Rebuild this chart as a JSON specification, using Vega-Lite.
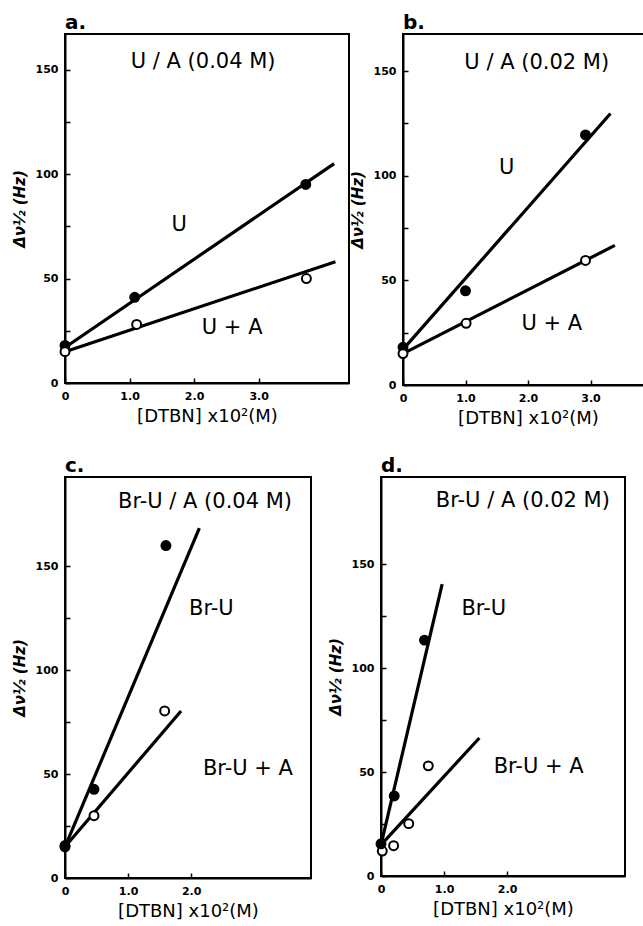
{
  "$schema": "https://vega.github.io/schema/vega-lite/v6.json",
  "background": "white",
  "padding": {"left": 11, "top": 12, "right": 0, "bottom": 0},
  "datasets": {
    "points": [
      {"panel": "a", "kind": "filled", "x": 0, "y": 18},
      {"panel": "a", "kind": "filled", "x": 1.08, "y": 41},
      {"panel": "a", "kind": "filled", "x": 3.73, "y": 95},
      {"panel": "a", "kind": "open", "x": 0, "y": 15},
      {"panel": "a", "kind": "open", "x": 1.11, "y": 28},
      {"panel": "a", "kind": "open", "x": 3.74, "y": 50},
      {"panel": "b", "kind": "filled", "x": 0, "y": 18},
      {"panel": "b", "kind": "filled", "x": 1.0, "y": 45},
      {"panel": "b", "kind": "filled", "x": 2.92, "y": 119.5},
      {"panel": "b", "kind": "open", "x": 0, "y": 15},
      {"panel": "b", "kind": "open", "x": 1.01, "y": 29.5},
      {"panel": "b", "kind": "open", "x": 2.92, "y": 59.5},
      {"panel": "c", "kind": "open", "x": 0, "y": 15},
      {"panel": "c", "kind": "filled", "x": 0, "y": 15.6},
      {"panel": "c", "kind": "filled", "x": 0.46, "y": 42.7},
      {"panel": "c", "kind": "filled", "x": 1.6, "y": 160},
      {"panel": "c", "kind": "open", "x": 0.46, "y": 30},
      {"panel": "c", "kind": "open", "x": 1.58, "y": 80.4},
      {"panel": "d", "kind": "open", "x": 0.02, "y": 12},
      {"panel": "d", "kind": "filled", "x": 0, "y": 15.5},
      {"panel": "d", "kind": "filled", "x": 0.21, "y": 38.5},
      {"panel": "d", "kind": "filled", "x": 0.69, "y": 113.5},
      {"panel": "d", "kind": "open", "x": 0.2, "y": 14.6},
      {"panel": "d", "kind": "open", "x": 0.44, "y": 25.2},
      {"panel": "d", "kind": "open", "x": 0.75, "y": 53}
    ],
    "fits": [
      {"panel": "a", "series": "U", "x": 0, "y": 17},
      {"panel": "a", "series": "U", "x": 4.17, "y": 105},
      {"panel": "a", "series": "U+A", "x": 0, "y": 15},
      {"panel": "a", "series": "U+A", "x": 4.19, "y": 58},
      {"panel": "b", "series": "U", "x": 0, "y": 17},
      {"panel": "b", "series": "U", "x": 3.32, "y": 129.7},
      {"panel": "b", "series": "U+A", "x": 0, "y": 15},
      {"panel": "b", "series": "U+A", "x": 3.39, "y": 66.7},
      {"panel": "c", "series": "Br-U", "x": 0, "y": 15},
      {"panel": "c", "series": "Br-U", "x": 2.13, "y": 168.4},
      {"panel": "c", "series": "Br-U+A", "x": 0, "y": 15},
      {"panel": "c", "series": "Br-U+A", "x": 1.84, "y": 80.4},
      {"panel": "d", "series": "Br-U", "x": 0, "y": 15},
      {"panel": "d", "series": "Br-U", "x": 0.97, "y": 140.4},
      {"panel": "d", "series": "Br-U+A", "x": 0, "y": 15},
      {"panel": "d", "series": "Br-U+A", "x": 1.56, "y": 66.4}
    ],
    "labels": [
      {"panel": "a", "text": "U / A (0.04 M)", "x": 2.14, "y": 153.4},
      {"panel": "a", "text": "U", "x": 1.77, "y": 75.5},
      {"panel": "a", "text": "U + A", "x": 2.59, "y": 26.1},
      {"panel": "b", "text": "U / A (0.02 M)", "x": 2.14, "y": 153.8},
      {"panel": "b", "text": "U", "x": 1.66, "y": 103.8},
      {"panel": "b", "text": "U + A", "x": 2.38, "y": 29},
      {"panel": "c", "text": "Br-U / A (0.04 M)", "x": 2.22, "y": 180.9},
      {"panel": "c", "text": "Br-U", "x": 2.32, "y": 129.7},
      {"panel": "c", "text": "Br-U + A", "x": 2.9, "y": 52.7},
      {"panel": "d", "text": "Br-U / A (0.02 M)", "x": 2.25, "y": 180.4},
      {"panel": "d", "text": "Br-U", "x": 1.63, "y": 128.4},
      {"panel": "d", "text": "Br-U + A", "x": 2.5, "y": 52.3}
    ]
  },
  "vconcat": [
    {
      "hconcat": [
        {
          "width": 284, "height": 349,
          "title": {"text": "a."},
          "layer": [
            {"data": {"name": "fits"}, "transform": [{"filter": "datum.panel === 'a'"}],
             "mark": {"type": "line", "color": "black", "strokeWidth": 3.2},
             "encoding": {
               "x": {"field": "x", "type": "quantitative", "scale": {"domain": [0, 4.4], "nice": false, "zero": false},
                     "axis": {"values": [0, 1, 2, 3], "labelExpr": "datum.value === 0 ? '0' : format(datum.value, '.1f')", "title": "[DTBN] x10²(M)"}},
               "y": {"field": "y", "type": "quantitative", "scale": {"domain": [0, 167], "nice": false},
                     "axis": {"values": [0, 25, 50, 75, 100, 125, 150], "labelExpr": "datum.value % 50 === 0 ? datum.label : ''", "title": "Δν½ (Hz)"}},
               "detail": {"field": "series"}}},
            {"data": {"name": "points"}, "transform": [{"filter": "datum.panel === 'a'"}],
             "mark": {"type": "point", "filled": true, "stroke": "black", "strokeWidth": 2, "size": 80, "opacity": 1},
             "encoding": {
               "x": {"field": "x", "type": "quantitative"},
               "y": {"field": "y", "type": "quantitative"},
               "fill": {"field": "kind", "type": "nominal", "scale": {"domain": ["filled", "open"], "range": ["black", "white"]}, "legend": null}}},
            {"data": {"name": "labels"}, "transform": [{"filter": "datum.panel === 'a'"}],
             "mark": {"type": "text", "fontSize": 21, "font": "DejaVu Sans", "color": "black", "align": "center", "baseline": "middle"},
             "encoding": {
               "x": {"field": "x", "type": "quantitative"},
               "y": {"field": "y", "type": "quantitative"},
               "text": {"field": "text"}}}
          ]
        },
        {
          "width": 250, "height": 351,
          "title": {"text": "b."},
          "layer": [
            {"data": {"name": "fits"}, "transform": [{"filter": "datum.panel === 'b'"}],
             "mark": {"type": "line", "color": "black", "strokeWidth": 3.2},
             "encoding": {
               "x": {"field": "x", "type": "quantitative", "scale": {"domain": [0, 4.0], "nice": false, "zero": false},
                     "axis": {"values": [0, 1, 2, 3], "labelExpr": "datum.value === 0 ? '0' : format(datum.value, '.1f')", "title": "[DTBN] x10²(M)"}},
               "y": {"field": "y", "type": "quantitative", "scale": {"domain": [0, 167.7], "nice": false},
                     "axis": {"values": [0, 25, 50, 75, 100, 125, 150], "labelExpr": "datum.value % 50 === 0 ? datum.label : ''", "title": "Δν½ (Hz)"}},
               "detail": {"field": "series"}}},
            {"data": {"name": "points"}, "transform": [{"filter": "datum.panel === 'b'"}],
             "mark": {"type": "point", "filled": true, "stroke": "black", "strokeWidth": 2, "size": 80, "opacity": 1},
             "encoding": {
               "x": {"field": "x", "type": "quantitative"},
               "y": {"field": "y", "type": "quantitative"},
               "fill": {"field": "kind", "type": "nominal", "scale": {"domain": ["filled", "open"], "range": ["black", "white"]}, "legend": null}}},
            {"data": {"name": "labels"}, "transform": [{"filter": "datum.panel === 'b'"}],
             "mark": {"type": "text", "fontSize": 21, "font": "DejaVu Sans", "color": "black", "align": "center", "baseline": "middle"},
             "encoding": {
               "x": {"field": "x", "type": "quantitative"},
               "y": {"field": "y", "type": "quantitative"},
               "text": {"field": "text"}}}
          ]
        }
      ],
      "spacing": 54,
      "bounds": "flush"
    },
    {
      "hconcat": [
        {
          "width": 246, "height": 401,
          "title": {"text": "c."},
          "layer": [
            {"data": {"name": "fits"}, "transform": [{"filter": "datum.panel === 'c'"}],
             "mark": {"type": "line", "color": "black", "strokeWidth": 3.2},
             "encoding": {
               "x": {"field": "x", "type": "quantitative", "scale": {"domain": [0, 3.9], "nice": false, "zero": false},
                     "axis": {"values": [0, 1, 2], "labelExpr": "datum.value === 0 ? '0' : format(datum.value, '.1f')", "title": "[DTBN] x10²(M)"}},
               "y": {"field": "y", "type": "quantitative", "scale": {"domain": [0, 193], "nice": false},
                     "axis": {"values": [0, 25, 50, 75, 100, 125, 150], "labelExpr": "datum.value % 50 === 0 ? datum.label : ''", "title": "Δν½ (Hz)"}},
               "detail": {"field": "series"}}},
            {"data": {"name": "points"}, "transform": [{"filter": "datum.panel === 'c'"}],
             "mark": {"type": "point", "filled": true, "stroke": "black", "strokeWidth": 2, "size": 80, "opacity": 1},
             "encoding": {
               "x": {"field": "x", "type": "quantitative"},
               "y": {"field": "y", "type": "quantitative"},
               "fill": {"field": "kind", "type": "nominal", "scale": {"domain": ["filled", "open"], "range": ["black", "white"]}, "legend": null}}},
            {"data": {"name": "labels"}, "transform": [{"filter": "datum.panel === 'c'"}],
             "mark": {"type": "text", "fontSize": 21, "font": "DejaVu Sans", "color": "black", "align": "center", "baseline": "middle"},
             "encoding": {
               "x": {"field": "x", "type": "quantitative"},
               "y": {"field": "y", "type": "quantitative"},
               "text": {"field": "text"}}}
          ]
        },
        {
          "width": 244, "height": 399,
          "title": {"text": "d."},
          "layer": [
            {"data": {"name": "fits"}, "transform": [{"filter": "datum.panel === 'd'"}],
             "mark": {"type": "line", "color": "black", "strokeWidth": 3.2},
             "encoding": {
               "x": {"field": "x", "type": "quantitative", "scale": {"domain": [0, 3.87], "nice": false, "zero": false},
                     "axis": {"values": [0, 1, 2], "labelExpr": "datum.value === 0 ? '0' : format(datum.value, '.1f')", "title": "[DTBN] x10²(M)"}},
               "y": {"field": "y", "type": "quantitative", "scale": {"domain": [0, 192], "nice": false},
                     "axis": {"values": [0, 25, 50, 75, 100, 125, 150], "labelExpr": "datum.value % 50 === 0 ? datum.label : ''", "title": "Δν½ (Hz)"}},
               "detail": {"field": "series"}}},
            {"data": {"name": "points"}, "transform": [{"filter": "datum.panel === 'd'"}],
             "mark": {"type": "point", "filled": true, "stroke": "black", "strokeWidth": 2, "size": 80, "opacity": 1},
             "encoding": {
               "x": {"field": "x", "type": "quantitative"},
               "y": {"field": "y", "type": "quantitative"},
               "fill": {"field": "kind", "type": "nominal", "scale": {"domain": ["filled", "open"], "range": ["black", "white"]}, "legend": null}}},
            {"data": {"name": "labels"}, "transform": [{"filter": "datum.panel === 'd'"}],
             "mark": {"type": "text", "fontSize": 21, "font": "DejaVu Sans", "color": "black", "align": "center", "baseline": "middle"},
             "encoding": {
               "x": {"field": "x", "type": "quantitative"},
               "y": {"field": "y", "type": "quantitative"},
               "text": {"field": "text"}}}
          ]
        }
      ],
      "spacing": 70,
      "bounds": "flush"
    }
  ],
  "spacing": 27,
  "config": {
    "view": {"stroke": "black", "strokeWidth": 2},
    "axis": {
      "grid": false,
      "domainColor": "black", "domainWidth": 2,
      "tickColor": "black", "tickWidth": 1.5, "tickSize": -5,
      "labelPadding": 12, "labelColor": "black", "labelFont": "DejaVu Sans", "labelFontSize": 11, "labelFontWeight": "bold",
      "titleFont": "DejaVu Sans", "titleColor": "black", "titleFontSize": 18, "titleFontWeight": "normal"
    },
    "axisY": {"titleFontStyle": "italic", "titleFontWeight": "bold", "titleFontSize": 15, "titlePadding": 8},
    "axisX": {"titlePadding": 6, "labelFlush": false},
    "title": {"font": "DejaVu Sans", "fontSize": 20, "fontWeight": "bold", "anchor": "start", "color": "black", "offset": 1, "frame": "group"}
  }
}
